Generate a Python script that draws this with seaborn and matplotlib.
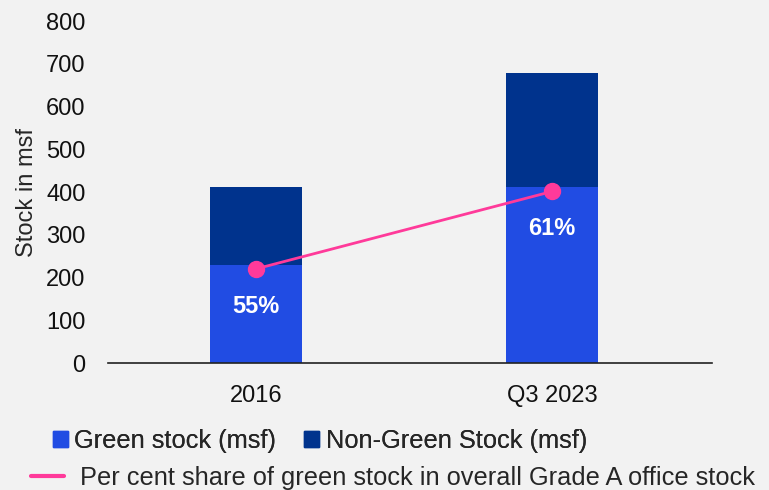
import pandas as pd
import numpy as np
import matplotlib.pyplot as plt
import seaborn as sns
from matplotlib.patches import Patch
from matplotlib.lines import Line2D

# Data
periods = ["2016", "Q3 2023"]
green_stock = [229, 412]
non_green_stock = [182, 266]
green_share = [55, 61]

BG = "#F2F2F2"
GREEN = "#214CE3"
NAVY = "#00338D"
PINK = "#FF3A9A"

sns.set_theme(style="white")
plt.rcParams['font.family'] = ['Liberation Sans', 'DejaVu Sans']

df = pd.DataFrame({"Period": periods, "Green": green_stock, "NonGreen": non_green_stock})
df["Total"] = df["Green"] + df["NonGreen"]

fig = plt.figure(figsize=(7.69, 4.90), dpi=100)
fig.patch.set_facecolor(BG)
ax = fig.add_axes([0.1404, 0.259, 0.7856, 0.698])
ax.set_facecolor(BG)

# stacked bars: total first, then green on top of it
sns.barplot(data=df, x="Period", y="Total", color=NAVY, width=0.31, ax=ax,
            saturation=1, linewidth=0)
sns.barplot(data=df, x="Period", y="Green", color=GREEN, width=0.31, ax=ax,
            saturation=1, linewidth=0)

ax.set_ylim(0, 800)
ax.set_yticks(range(0, 801, 100))
ax.set_xlim(-0.5, 1.54)
ax.set_ylabel("Stock in msf", fontsize=17, labelpad=6)
ax.set_xlabel("")
ax.tick_params(axis="both", labelsize=17, length=0, colors="#111111")
ax.tick_params(axis="x", pad=16)
ax.tick_params(axis="y", pad=16)
for s in ["left", "right", "top"]:
    ax.spines[s].set_visible(False)
ax.spines["bottom"].set_color("#222222")
ax.spines["bottom"].set_linewidth(1.2)

# share line on hidden secondary axis
ax2 = ax.twinx()
ax2.set_ylim(47.7, 74.2)
ax2.plot([0, 1], green_share, color=PINK, lw=2, marker="o", ms=11.5, zorder=5)
ax2.set_yticks([])
for s in ax2.spines.values():
    s.set_visible(False)
for i, v in enumerate(green_share):
    ax2.annotate(f"{v}%", (i, v), xytext=(0, -27), textcoords="offset points",
                 ha="center", va="center", color="white", fontsize=17, fontweight="bold")

h1 = [Patch(color=GREEN), Patch(color=NAVY)]
leg1 = fig.legend(h1, ["Green stock (msf)", "Non-Green Stock (msf)"], loc="center",
                  bbox_to_anchor=(0.416, 0.1), ncol=2, frameon=False, fontsize=18.3,
                  handlelength=0.6, handleheight=0.6, handletextpad=0.25, columnspacing=1.1,
                  borderpad=0)
h2 = [Line2D([0], [0], color=PINK, lw=3)]
fig.legend(h2, ["Per cent share of green stock in overall Grade A office stock"], loc="center",
           bbox_to_anchor=(0.511, 0.024), frameon=False, fontsize=18.3,
           handlelength=1.3, handletextpad=0.6, borderpad=0)
fig.add_artist(leg1)

fig.savefig("out.png", dpi=100, facecolor=BG)
